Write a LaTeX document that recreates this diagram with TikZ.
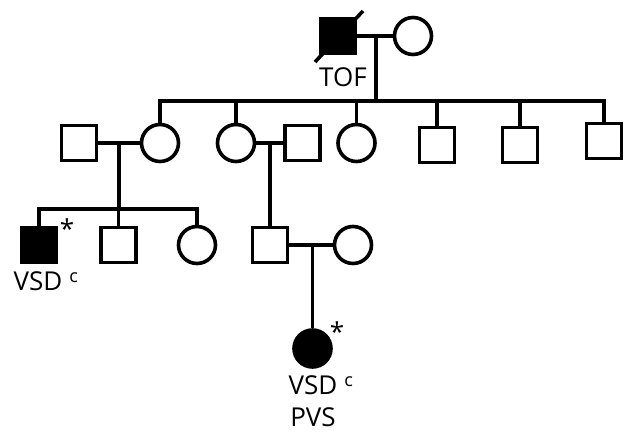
\documentclass[tikz,border=0pt]{standalone}
\usepackage{fontspec}
\setmainfont{Open Sans}
\usetikzlibrary{positioning}

\tikzset{
	pedline/.style={line width=3.6bp},
	male/.style={draw, pedline, rectangle, minimum size=35bp, inner sep=0pt, fill=white},
	female/.style={draw, pedline, circle, minimum size=37bp, inner sep=0pt, fill=white},
	affected/.style={fill=black},
	tag/.style={font=\fontsize{26bp}{30bp}\selectfont, inner sep=0pt},
}
\newcommand{\supc}{\rlap{\hspace{7bp}\raisebox{8bp}{\fontsize{18bp}{20bp}\selectfont c}}}

\begin{document}
\begin{tikzpicture}[every path/.append style={pedline}]

		\useasboundingbox (0bp,0bp) rectangle (637bp,433bp);

		% generation I
		\node[male, affected] (f0) at (338bp,397bp) {};
		\node[female] (m0) at (413bp,397bp) {};
		\coordinate (u0) at (376bp,397bp);
		\coordinate (sib0) at (376bp,332bp);

		% generation II
		\node[male] (h1) at (79bp,290bp) {};
		\node[female] (w1) at (160bp,290bp) {};
		\node[female] (w2) at (236bp,290bp) {};
		\node[male] (h2) at (302.5bp,290bp) {};
		\node[female] (d3) at (356.5bp,290bp) {};
		\node[male] (s4) at (437bp,288bp) {};
		\node[male] (s5) at (520bp,288bp) {};
		\node[male] (s6) at (604bp,292bp) {};
		\coordinate (u1) at (119bp,290bp);
		\coordinate (u2) at (270bp,290bp);
		\coordinate (sib1) at (119bp,224bp);

		% generation III
		\node[male, affected] (p1) at (39bp,188bp) {};
		\node[male] (s7) at (118.5bp,188bp) {};
		\node[female] (d8) at (197bp,188bp) {};
		\node[male] (g2) at (270bp,188bp) {};
		\node[female] (w3) at (353bp,188bp) {};
		\coordinate (u3) at (312.5bp,188bp);

		% generation IV
		\node[female, affected] (p2) at (312.5bp,84.5bp) {};

		% labels
		\node[tag] (tof) at (343bp,356bp) {TOF};
		\node[tag] (vsd1) at (38bp,152bp) {VSD\supc};
		\node[tag] (vsd2) at (313bp,48bp) {VSD\supc};
		\node[tag] (pvs2) at (313bp,16bp) {PVS};
		\node[tag] (ast1) at (67bp,204bp) {*};
		\node[tag] (ast2) at (337bp,101bp) {*};

		% deceased
		\draw (f0.center) ++(-23bp,-26bp) -- ++(48bp,51bp);

		% marriages and lines of descent
		\draw (f0.east) -- (m0.west);
		\draw (u0) -- (sib0);
		\draw (w1.north) |- (sib0) -| (s6.north);
		\draw (w2.north) -- (w2.north |- sib0);
		\draw (d3.north) -- (d3.north |- sib0);
		\draw (s4.north) -- (s4.north |- sib0);
		\draw (s5.north) -- (s5.north |- sib0);

		\draw (h1.east) -- (w1.west);
		\draw (u1) -- (sib1);
		\draw (p1.north) |- (sib1) -| (d8.north);
		\draw (s7.north) -- (s7.north |- sib1);

		\draw (w2.east) -- (h2.west);
		\draw (u2) -- (g2.north);

		\draw (g2.east) -- (w3.west);
		\draw (u3) -- (p2.north);

	\end{tikzpicture}
\end{document}
